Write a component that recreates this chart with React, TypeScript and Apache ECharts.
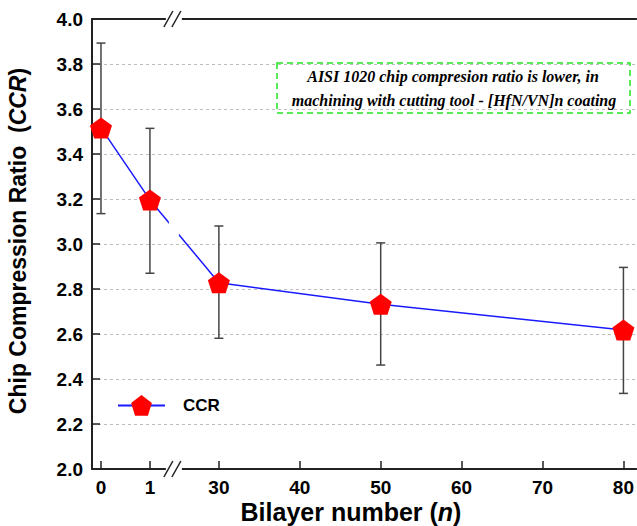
import React, { useEffect, useRef } from "react";
import * as echarts from "echarts";

// ---- data ----
const nValues = [0, 1, 30, 50, 80];
const ccr = [3.516, 3.196, 2.828, 2.732, 2.618];
const errLow = [3.135, 2.87, 2.581, 2.462, 2.336];
const errHigh = [3.893, 3.514, 3.08, 3.005, 2.896];
const xTickLabels = [0, 1, 30, 40, 50, 60, 70, 80];
const seriesName = "CCR";
const noteLines = [
  "AISI 1020 chip compresion ratio is lower, in",
  "machining with cutting tool - [HfN/VN]n coating",
];

// ---- broken x scale (0..1 segment, break, 30..80 segment) ----
const SEG1_START = 15.43;
const SEG1_STEP = 6.05;
const BREAK_U = 24.44;
const X_MIN = 14.32;
const X_MAX = 81.6;
const toAxis = (n: number) => (n >= 30 ? n : SEG1_START + n * SEG1_STEP);

const FONT = "Arial, 'Liberation Sans', sans-serif";
const SERIF = "'Times New Roman', 'Liberation Serif', serif";
const PENTAGON =
  "path://M50 0 L97.55 34.55 L79.39 90.45 L20.61 90.45 L2.45 34.55 Z";

export default function App() {
  const ref = useRef<HTMLDivElement>(null);
  useEffect(() => {
    if (!ref.current) return;
    const chart = echarts.init(ref.current, undefined, { renderer: "svg" });
    const tickU = xTickLabels.map(toAxis);
    const labelFor = (v: number) => {
      let best = 0;
      tickU.forEach((u, i) => {
        if (Math.abs(u - v) < Math.abs(tickU[best] - v)) best = i;
      });
      return String(xTickLabels[best]);
    };
    const lineData = nValues.map((n, i) => [toAxis(n), ccr[i]]);
    const errData = nValues.map((n, i) => [toAxis(n), errLow[i], errHigh[i]]);

    chart.setOption({
      animation: false,
      textStyle: { fontFamily: FONT },
      grid: { left: 92, right: 0, top: 19, bottom: 57, containLabel: false },
      legend: {
        data: [seriesName],
        left: 117,
        top: 395,
        padding: 0,
        itemWidth: 47,
        itemHeight: 26,
        textStyle: {
          fontFamily: FONT,
          fontWeight: "bold",
          fontSize: 17,
          color: "#000",
          padding: [0, 0, 0, 13],
        },
      },
      xAxis: [
        {
          type: "value",
          min: X_MIN,
          max: X_MAX,
          axisLine: { show: true, onZero: false, lineStyle: { color: "#222", width: 2 } },
          axisTick: {
            show: true,
            inside: true,
            length: 8,
            customValues: tickU,
            lineStyle: { color: "#222", width: 1.5 },
          },
          axisLabel: {
            customValues: tickU,
            formatter: (v: number) => labelFor(v),
            fontFamily: FONT,
            fontWeight: "bold",
            fontSize: 19,
            color: "#000",
            margin: 9,
          },
          splitLine: { show: false },
        },
        {
          type: "value",
          position: "top",
          min: X_MIN,
          max: X_MAX,
          axisLine: { show: true, onZero: false, lineStyle: { color: "#222", width: 2 } },
          axisTick: { show: false },
          axisLabel: { show: false },
          splitLine: { show: false },
        },
      ],
      yAxis: {
        type: "value",
        min: 2,
        max: 4,
        interval: 0.2,
        axisLine: { show: true, lineStyle: { color: "#222", width: 2 } },
        axisTick: { show: true, inside: true, length: 8, lineStyle: { color: "#222", width: 1.5 } },
        axisLabel: {
          formatter: (v: number) => v.toFixed(1),
          fontFamily: FONT,
          fontWeight: "bold",
          fontSize: 19,
          color: "#000",
          margin: 9,
        },
        splitLine: { show: true, lineStyle: { color: "#bdbdbd", type: [3, 3], width: 1 } },
      },
      series: [
        {
          type: "custom",
          name: "err",
          z: 1,
          data: errData,
          renderItem: (params: any, api: any) => {
            const x = api.value(0);
            const lo = api.coord([x, api.value(1)]);
            const hi = api.coord([x, api.value(2)]);
            const hw = 4.5;
            const style = { stroke: "#444", lineWidth: 1.5 };
            return {
              type: "group",
              children: [
                { type: "line", shape: { x1: lo[0], y1: lo[1], x2: hi[0], y2: hi[1] }, style },
                { type: "line", shape: { x1: hi[0] - hw, y1: hi[1], x2: hi[0] + hw, y2: hi[1] }, style },
                { type: "line", shape: { x1: lo[0] - hw, y1: lo[1], x2: lo[0] + hw, y2: lo[1] }, style },
              ],
            };
          },
        },
        {
          type: "line",
          name: seriesName,
          z: 3,
          data: lineData,
          symbol: PENTAGON,
          symbolSize: [22, 21],
          itemStyle: { color: "#ff0000", borderWidth: 0 },
          lineStyle: { color: "#1a1aff", width: 1.5 },
        },
      ],
    });

    // break decorations computed through the axis scale
    const bx = chart.convertToPixel({ xAxisIndex: 0 }, BREAK_U) as number;
    const yBottom = chart.convertToPixel({ yAxisIndex: 0 }, 2) as number;
    const yTop = chart.convertToPixel({ yAxisIndex: 0 }, 4) as number;
    const u1 = toAxis(nValues[1]);
    const u2 = toAxis(nValues[2]);
    const t = (BREAK_U - u1) / (u2 - u1);
    const vBreak = ccr[1] + (ccr[2] - ccr[1]) * t;
    const yLine = chart.convertToPixel({ yAxisIndex: 0 }, vBreak) as number;

    const breakMarks = (ay: number) => [
      { type: "rect", z: 100, shape: { x: bx - 8, y: ay - 3, width: 16, height: 6 }, style: { fill: "#fff" } },
      {
        type: "line",
        z: 101,
        shape: { x1: bx - 10, y1: ay + 8, x2: bx - 1, y2: ay - 8 },
        style: { stroke: "#222", lineWidth: 1.5 },
      },
      {
        type: "line",
        z: 101,
        shape: { x1: bx - 2, y1: ay + 8, x2: bx + 7, y2: ay - 8 },
        style: { stroke: "#222", lineWidth: 1.5 },
      },
    ];

    chart.setOption({
      graphic: [
        {
          type: "rect",
          z: 100,
          shape: { x: bx - 5, y: yLine - 8, width: 10, height: 16 },
          style: { fill: "#fff" },
        },
        ...breakMarks(yBottom),
        ...breakMarks(yTop),
        {
          type: "rect",
          z: 50,
          shape: { x: 277, y: 63, width: 353, height: 50 },
          style: { fill: "none", stroke: "#22e622", lineWidth: 1.5, lineDash: [6, 4] },
        },
        {
          type: "text",
          z: 51,
          x: 453,
          y: 76,
          style: {
            text: noteLines[0],
            align: "center",
            verticalAlign: "middle",
            font: `italic bold 16px ${SERIF}`,
            fill: "#000",
          },
        },
        {
          type: "text",
          z: 51,
          x: 454,
          y: 100,
          style: {
            text: noteLines[1],
            align: "center",
            verticalAlign: "middle",
            font: `italic bold 16px ${SERIF}`,
            fill: "#000",
          },
        },
        {
          type: "text",
          x: 18,
          y: 241,
          rotation: Math.PI / 2,
          style: {
            text: "{b|Chip Compression Ratio  (}{i|CCR}{b|)}",
            align: "center",
            verticalAlign: "middle",
            rich: {
              b: { fontFamily: FONT, fontWeight: "bold", fontSize: 23, fill: "#000", color: "#000" },
              i: { fontFamily: FONT, fontWeight: "bold", fontStyle: "italic", fontSize: 23, fill: "#000", color: "#000" },
            },
          },
        },
        {
          type: "text",
          x: 351,
          y: 512,
          style: {
            text: "{b|Bilayer number (}{i|n}{b|)}",
            align: "center",
            verticalAlign: "middle",
            rich: {
              b: { fontFamily: FONT, fontWeight: "bold", fontSize: 25, fill: "#000", color: "#000" },
              i: { fontFamily: FONT, fontWeight: "bold", fontStyle: "italic", fontSize: 25, fill: "#000", color: "#000" },
            },
          },
        },
      ],
    });

    return () => chart.dispose();
  }, []);

  return (
    <div
      ref={ref}
      style={{ position: "fixed", left: 0, top: 0, width: 637, height: 526, background: "#fff" }}
    />
  );
}
